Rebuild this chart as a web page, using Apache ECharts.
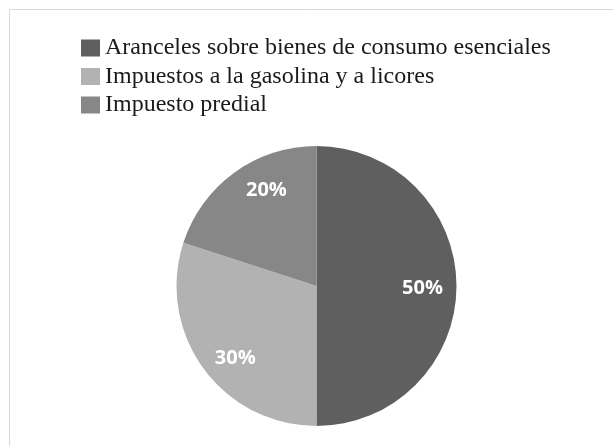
<!DOCTYPE html>
<html>
<head>
<meta charset="utf-8">
<script src="https://cdn.jsdelivr.net/npm/echarts@6/dist/echarts.min.js"></script>
<style>html,body{margin:0;padding:0;background:#fff;}#c{width:613px;height:446px;}</style>
</head>
<body>
<div id="c"></div>
<script>
const categories = ['Aranceles sobre bienes de consumo esenciales', 'Impuestos a la gasolina y a licores', 'Impuesto predial'];
const values = [50, 30, 20];
const colors = ['#5f5f5f', '#b2b2b2', '#878787'];

const chart = echarts.init(document.getElementById('c'), null, {renderer: 'canvas'});
const data = categories.map((n, i) => ({name: n, value: values[i], itemStyle: {color: colors[i]}}));
// small nudges of the inside labels to match the reference placement
const nudge = [[-3, 2], [7, 8], [14, -8]];
chart.setOption({
  animation: false,
  backgroundColor: '#fff',
  graphic: [{
    type: 'rect', silent: true, z: -1,
    shape: {x: 9.5, y: 9.5, width: 800, height: 800},
    style: {fill: 'none', stroke: '#d9d9d9', lineWidth: 1}
  }],
  legend: {
    orient: 'vertical', left: 81, top: 36, padding: 0,
    icon: 'rect', itemWidth: 19, itemHeight: 17, itemGap: 4.5,
    textStyle: {fontFamily: 'Liberation Serif', fontSize: 24, lineHeight: 24, color: '#1a1a1a'},
    data: categories
  },
  series: [{
    type: 'pie', center: [316.5, 286], radius: [0, 140],
    startAngle: 90, clockwise: true,
    label: {show: false}, labelLine: {show: false},
    emphasis: {disabled: true},
    data: data
  }, {
    type: 'pie', center: [316.5, 286], radius: [72, 140],
    startAngle: 90, clockwise: true, silent: true,
    legendHoverLink: false,
    itemStyle: {color: 'rgba(0,0,0,0)'},
    label: {show: true, position: 'inside', formatter: '{c}%', color: '#fff',
      fontFamily: 'Open Sans', fontWeight: 'bold', fontSize: 20},
    labelLine: {show: false},
    emphasis: {disabled: true},
    data: categories.map((n, i) => ({name: n + ' ', value: values[i], label: {offset: nudge[i]}}))
  }]
});
</script>
</body>
</html>
